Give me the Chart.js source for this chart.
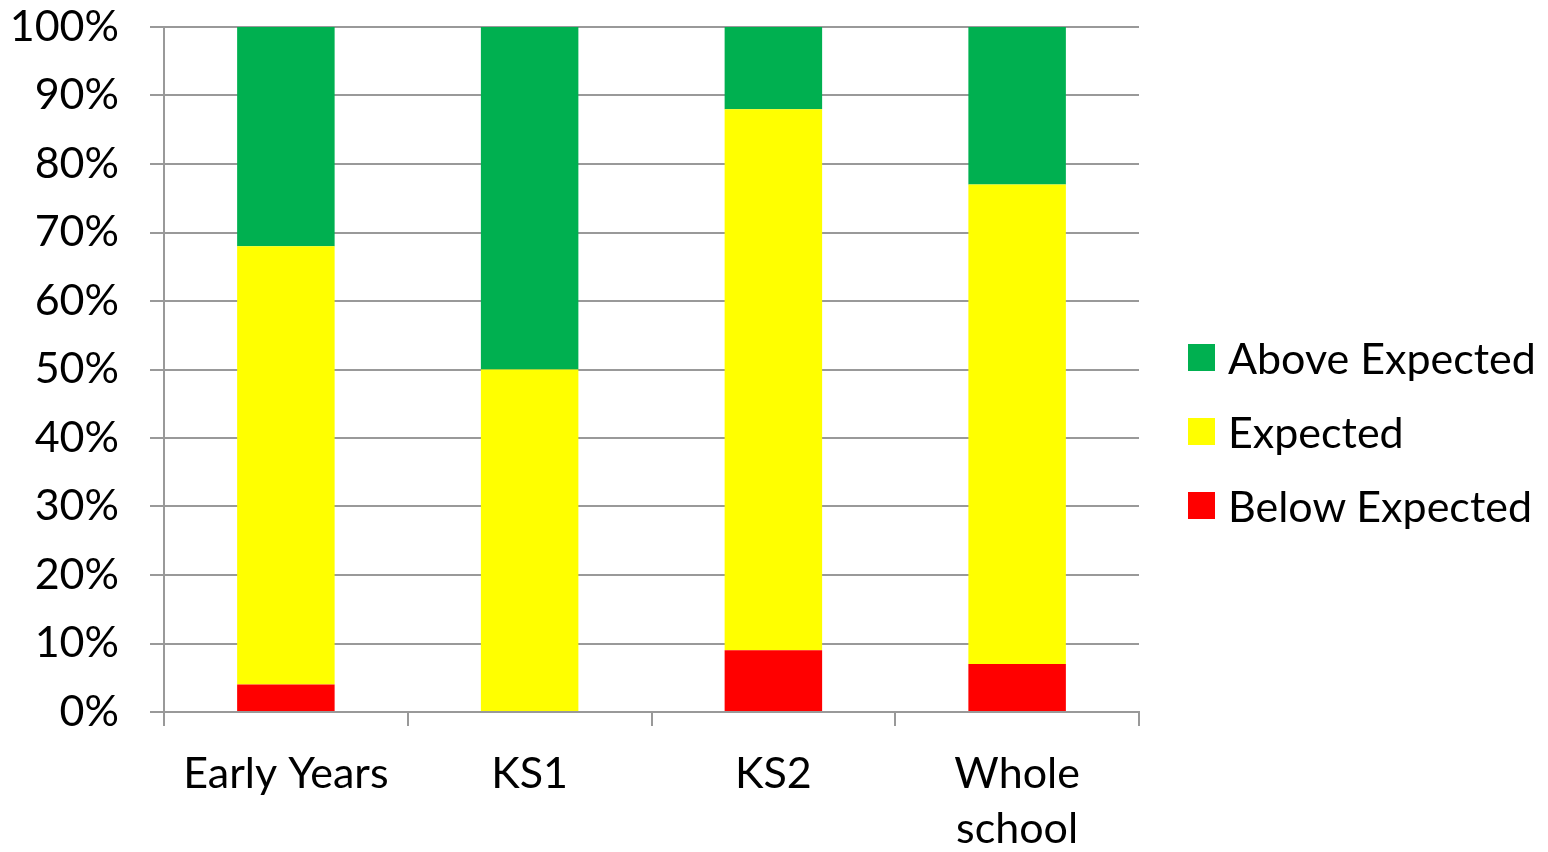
<!DOCTYPE html>
<html>
<head>
<meta charset="utf-8">
<script src="https://cdn.jsdelivr.net/npm/chart.js@4"></script>
<style>
  html, body { margin: 0; padding: 0; background: #fff; overflow: hidden; }
  .wrap { position: relative; width: 1548px; height: 852px; }
  #legend { position: absolute; left: 1188px; top: 320px; font-family: Lato, sans-serif; font-size: 43px; color: #000; }
  .item { display: flex; align-items: center; height: 74px; white-space: nowrap; }
  .box { width: 27px; height: 27px; margin-right: 13px; }
</style>
</head>
<body>
<div class="wrap">
  <canvas id="chart" width="1548" height="852"></canvas>
  <div id="legend"></div>
</div>
<script>
// 100% stacked bars
const categories = ['Early Years', 'KS1', 'KS2', ['Whole', 'school']];
const belowExpected = [4, 0, 9, 7];
const expected      = [64, 50, 79, 70];
const aboveExpected = [32, 50, 12, 23];
const yTicks = [0, 10, 20, 30, 40, 50, 60, 70, 80, 90, 100];

const series = [
  { label: 'Below Expected', data: belowExpected, color: '#ff0000' },
  { label: 'Expected',       data: expected,      color: '#ffff00' },
  { label: 'Above Expected', data: aboveExpected, color: '#00b050' },
];

const gridColor = '#999999';
const font = { family: 'Lato', size: 43 };

new Chart(document.getElementById('chart').getContext('2d'), {
  type: 'bar',
  data: {
    labels: categories,
    datasets: series.map(s => ({
      label:           s.label,
      data:            s.data,
      backgroundColor: s.color,
      borderWidth:     0,
      barPercentage:   0.4,
      categoryPercentage: 1,
    })),
  },
  options: {
    responsive: false,
    animation: false,
    layout: { padding: { top: 27, right: 409, left: 0, bottom: 0 } },
    plugins: { legend: { display: false }, tooltip: { enabled: false } },
    scales: {
      x: {
        stacked: true,
        afterFit: s => { s.height = 140; s.paddingLeft = 0; s.paddingRight = 0; },
        grid: { offset: true, drawOnChartArea: false, drawTicks: true, tickLength: 14, color: gridColor, lineWidth: 2 },
        border: { color: gridColor, width: 2 },
        ticks: { color: '#000', font: { ...font, lineHeight: 1.28 }, padding: 21, maxRotation: 0, autoSkip: false },
      },
      y: {
        stacked: true,
        min: 0,
        max: 100,
        afterFit: s => { s.width = 164; s.paddingTop = 0; s.paddingBottom = 0; },
        afterBuildTicks: axis => { axis.ticks = yTicks.map(v => ({ value: v })); },
        grid: { color: gridColor, lineWidth: 2, tickLength: 14 },
        border: { color: gridColor, width: 2 },
        ticks: { color: '#000', font, padding: 31, callback: v => v + '%' },
      },
    },
  },
});

// legend, top to bottom as in the picture
document.getElementById('legend').innerHTML = series.slice().reverse().map(s => `
  <div class="item"><span class="box" style="background:${s.color}"></span>${s.label}</div>
`).join('');
</script>
</body>
</html>
